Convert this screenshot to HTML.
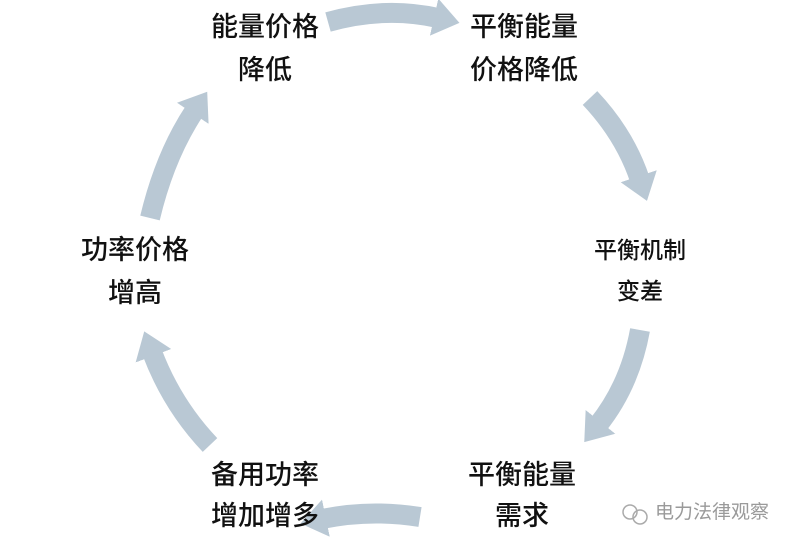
<!DOCTYPE html>
<html><head><meta charset="utf-8"><style>
html,body{margin:0;padding:0;background:#fff;}
svg{display:block;}
text{font-family:"Liberation Sans","Noto Sans CJK SC",sans-serif;fill:#111;text-anchor:middle;font-weight:500;}
</style></head><body>
<svg width="800" height="545" viewBox="0 0 800 545">
<defs>
<marker id="h" markerUnits="userSpaceOnUse" markerWidth="30" markerHeight="38" refX="4" refY="19" orient="auto">
<polygon points="0,0 26,19 0,38" fill="#b9c8d4"/>
</marker>
</defs>
<g fill="none" stroke="#b9c8d4" stroke-width="20" marker-end="url(#h)">
<path d="M328,22 Q385,6 438,18"/>
<path d="M590,98 Q625,135 640,180"/>
<path d="M640,330 Q630,385 598,425"/>
<path d="M420,517 Q370,509 322,519"/>
<path d="M210,445 Q172,405 152,352"/>
<path d="M150,218 Q165,155 195,110"/>
</g>
<g font-size="27">
<text x="265" y="36">能量价格</text>
<text x="265" y="79">降低</text>
<text x="524" y="36">平衡能量</text>
<text x="524" y="79">价格降低</text>
<text x="135" y="259">功率价格</text>
<text x="135" y="302">增高</text>
<text x="265" y="484">备用功率</text>
<text x="265" y="525">增加增多</text>
<text x="522" y="484">平衡能量</text>
<text x="522" y="525">需求</text>
</g>
<g font-size="23">
<text x="640" y="258">平衡机制</text>
<text x="640" y="299">变差</text>
</g>
<text x="712" y="518" font-size="19" style="fill:#9a9a9a;font-weight:400">电力法律观察</text>
<circle cx="630" cy="512" r="7" fill="none" stroke="#aaa" stroke-width="1.5"/>
<circle cx="640" cy="517" r="7" fill="none" stroke="#aaa" stroke-width="1.5"/>
</svg>
</body></html>
